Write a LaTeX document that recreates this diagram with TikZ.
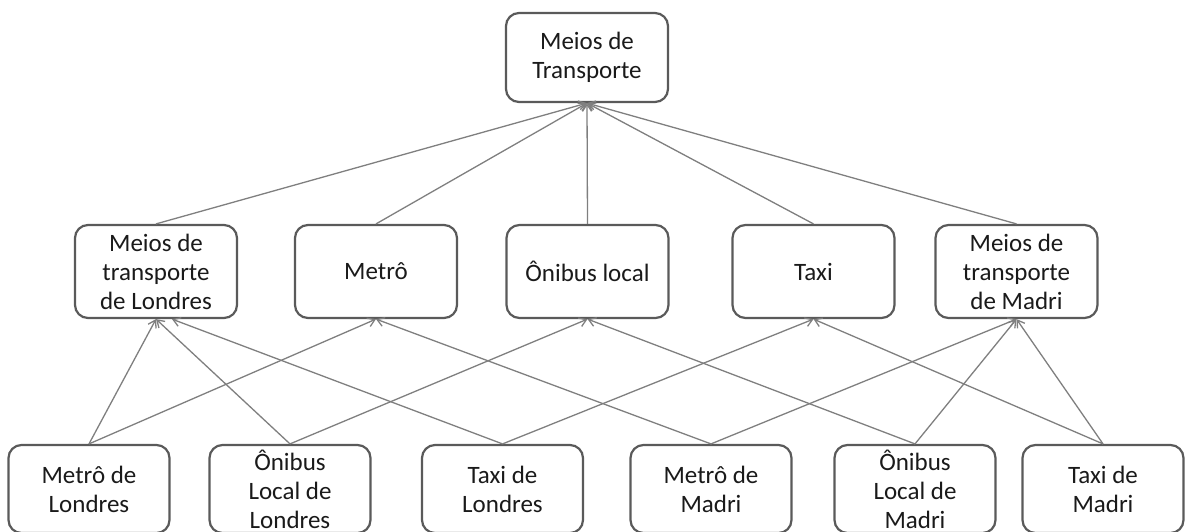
\documentclass[tikz,border=0pt]{standalone}
\usepackage{fontspec}
\setmainfont{Carlito}
\usetikzlibrary{arrows.meta}
\definecolor{boxline}{HTML}{5A5A5A}
\definecolor{edgeline}{HTML}{7F7F7F}
\definecolor{txt}{HTML}{1A1A1A}
\begin{document}
\begin{tikzpicture}[x=1pt,y=-1pt,
  box/.style={draw=boxline, line width=2.2pt, rounded corners=13pt, fill=white, align=center,
    font=\fontsize{25}{29}\selectfont, inner sep=0pt, text=txt},
  topbox/.style={box, minimum width=162pt, minimum height=89pt},
  midbox/.style={box, minimum width=162pt, minimum height=93pt},
  botbox/.style={box, minimum width=161pt, minimum height=88pt},
  link/.style={draw=edgeline, line width=1.3pt, -{Straight Barb[length=7pt,width=9pt]}}]
\useasboundingbox (0,0) rectangle (1187,531);
% top
\node[topbox] (top) at (587,57.5) {Meios de\\Transporte};
% middle
\node[midbox] (L) at (156,271.5) {Meios de\\transporte\\de Londres};
\node[midbox] (M) at (376,271.5) {Metrô};
\node[midbox] (O) at (587.5,271.5) {Ônibus local};
\node[midbox] (T) at (813.5,271.5) {Taxi};
\node[midbox] (D) at (1016.5,271.5) {Meios de\\transporte\\de Madri};
% bottom
\node[botbox] (b1) at (89,489) {Metrô de\\Londres};
\node[botbox] (b2) at (290,489) {Ônibus\\Local de\\Londres};
\node[botbox] (b3) at (502.5,489) {Taxi de\\Londres};
\node[botbox] (b4) at (711,489) {Metrô de\\Madri};
\node[botbox] (b5) at (915,489) {Ônibus\\Local de\\Madri};
\node[botbox] (b6) at (1103,489) {Taxi de\\Madri};
% edges to top
\foreach \n in {L,M,O,T,D} \draw[link] (\n.north) -- (top.south);
% edges to middle
\draw[link] (b1.north) -- (L.south);
\draw[link] (b1.north) -- (M.south);
\draw[link] (b2.north) -- (L.south);
\draw[link] (b2.north) -- (O.south);
\draw[link] (b3.north) -- ([xshift=16pt]L.south);
\draw[link] (b3.north) -- (T.south);
\draw[link] (b4.north) -- (M.south);
\draw[link] (b4.north) -- (D.south);
\draw[link] (b5.north) -- (O.south);
\draw[link] (b5.north) -- (D.south);
\draw[link] (b6.north) -- (T.south);
\draw[link] (b6.north) -- (D.south);
\end{tikzpicture}
\end{document}
